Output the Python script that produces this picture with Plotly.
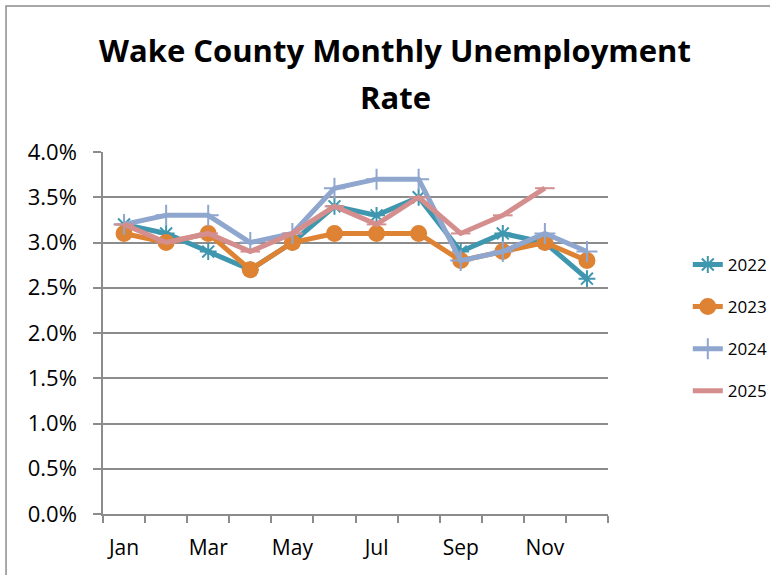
import plotly.graph_objects as go

months = ["Jan", "Feb", "Mar", "Apr", "May", "Jun",
          "Jul", "Aug", "Sep", "Oct", "Nov", "Dec"]
tick_labels = ["Jan", "", "Mar", "", "May", "", "Jul", "", "Sep", "", "Nov", ""]

rate_2022 = [0.032, 0.031, 0.029, 0.027, 0.030, 0.034, 0.033, 0.035, 0.029, 0.031, 0.030, 0.026]
rate_2023 = [0.031, 0.030, 0.031, 0.027, 0.030, 0.031, 0.031, 0.031, 0.028, 0.029, 0.030, 0.028]
rate_2024 = [0.032, 0.033, 0.033, 0.030, 0.031, 0.036, 0.037, 0.037, 0.028, 0.029, 0.031, 0.029]
rate_2025 = [0.032, 0.030, 0.031, 0.029, 0.031, 0.034, 0.032, 0.035, 0.031, 0.033, 0.036]

series = [
    ("2022", rate_2022, "#3E97AE", "asterisk-open", 14),
    ("2023", rate_2023, "#DE8234", "circle", 15),
    ("2024", rate_2024, "#8FA6CE", "cross-thin-open", 15),
    ("2025", rate_2025, "#D48E8E", "line-ew-open", 14),
]

fig = go.Figure()
for name, vals, color, symbol, size in series:
    fig.add_trace(go.Scatter(
        x=months[:len(vals)], y=vals, name=name, mode="lines+markers",
        legendgroup=name,
        line=dict(color=color, width=5),
        marker=dict(symbol=symbol, size=size, color=color,
                    line=dict(color=color, width=2)),
    ))

font = "Open Sans"
title_font = dict(family=font, size=31, color="black")
fig.update_layout(
    width=770, height=575,
    margin=dict(l=103, r=162, t=152, b=61, autoexpand=False),
    paper_bgcolor="white", plot_bgcolor="white",
    showlegend=True,
    legend=dict(x=1.158, y=0.514, xanchor="left", yanchor="middle",
                font=dict(family=font, size=17, color="black"),
                traceorder="grouped", tracegroupgap=17,
                bgcolor="rgba(0,0,0,0)"),
    annotations=[
        dict(text="<b>Wake County Monthly Unemployment</b>",
             xref="paper", yref="paper", x=0.578, y=1.282,
             xanchor="center", yanchor="middle", showarrow=False,
             font=title_font),
        dict(text="<b>Rate</b>",
             xref="paper", yref="paper", x=0.580, y=1.152,
             xanchor="center", yanchor="middle", showarrow=False,
             font=title_font),
    ],
    shapes=[dict(type="rect", xref="paper", yref="paper",
                 x0=-0.192, x1=1.6, y0=-0.4, y1=1.403,
                 line=dict(color="#8C8C8C", width=1.5), layer="below")],
)

fig.update_xaxes(
    type="category", categoryorder="array", categoryarray=months,
    tickmode="array", tickvals=months, ticktext=tick_labels,
    tickson="boundaries", ticks="outside", ticklen=7, tickcolor="#8C8C8C",
    tickwidth=1.5, tickangle=0, ticklabelstandoff=14,
    showgrid=False, showline=True, linecolor="#8C8C8C", linewidth=1.5,
    range=[-0.5, 11.5],
    tickfont=dict(family=font, size=21, color="black"),
)
fig.update_yaxes(
    range=[0, 0.04], dtick=0.005, tickformat=".1%",
    ticks="outside", ticklen=8, tickcolor="#8C8C8C", tickwidth=1.5,
    ticklabelstandoff=12,
    showgrid=True, gridcolor="#8C8C8C", gridwidth=1.5,
    showline=True, linecolor="#8C8C8C", linewidth=1.5,
    zeroline=False,
    tickfont=dict(family=font, size=22, color="black"),
)

fig.write_html("out.html")
